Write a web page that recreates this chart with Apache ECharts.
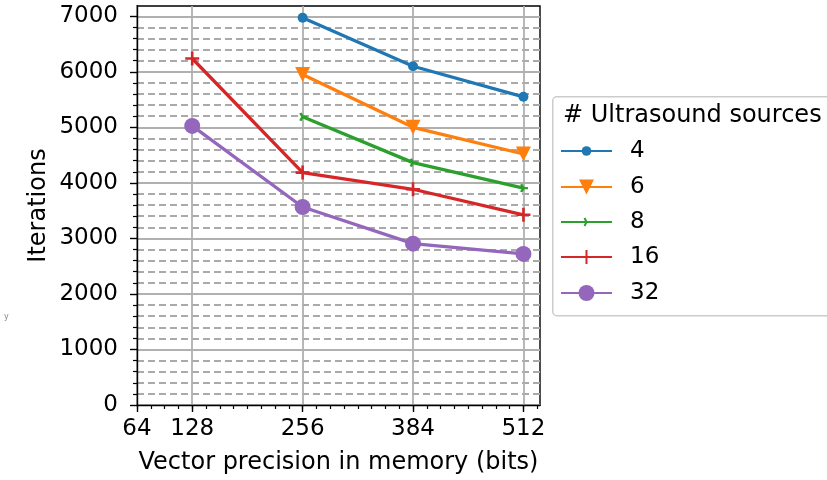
<!DOCTYPE html>
<html>
<head>
<meta charset="utf-8">
<script src="https://cdn.jsdelivr.net/npm/echarts@6/dist/echarts.min.js"></script>
<style>
  html, body { margin: 0; padding: 0; background: #fff; }
  #chart { width: 827px; height: 480px; }
</style>
</head>
<body>
<div id="chart"></div>
<script>
  // values
  var precisions = [128, 256, 384, 512];
  var sources4 = [null, 6975, 6100, 5550];
  var sources6 = [null, 5950, 5000, 4520];
  var sources8 = [null, 5190, 4365, 3905];
  var sources16 = [6240, 4185, 3885, 3425];
  var sources32 = [5025, 3565, 2905, 2720];
  var seriesNames = ['4', '6', '8', '16', '32'];

  var xTicks = [64, 128, 256, 384, 512];
  var yTicks = [0, 1000, 2000, 3000, 4000, 5000, 6000, 7000];

  var xMinor = [];
  for (var v = 64; v <= 528; v += 16) xMinor.push(v);
  var yMinor = [];
  for (var w = 200; w < 7000; w += 200) if (w % 1000) yMinor.push(w);

  var FONT = 'DejaVu Sans';
  var colors = ['#1f77b4', '#ff7f0e', '#2ca02c', '#d62728', '#9467bd'];
  var X_MIN = 64, X_MAX = 531.2, Y_MIN = 0, Y_MAX = 7185;

  var triRight = 'path://M10,10 L20,10 M10,10 L5,1.34 M10,10 L5,18.66 M0,10 L0,10';
  var plus = 'path://M0,10 L20,10 M10,0 L10,20';

  function pairs(vals) {
    var out = [];
    precisions.forEach(function (p, i) {
      if (vals[i] != null) out.push([p, vals[i]]);
    });
    return out;
  }

  function lineSeries(name, vals, i, sym) {
    var s = {
      name: name,
      type: 'line',
      data: pairs(vals),
      xAxisIndex: 0,
      yAxisIndex: 0,
      symbol: sym.symbol,
      symbolSize: sym.size,
      symbolRotate: sym.rotate || 0,
      lineStyle: { color: colors[i], width: 3.3 },
      itemStyle: { color: colors[i], opacity: 1 },
      emphasis: { disabled: true },
      z: 3 + i
    };
    if (sym.stroke) {
      s.itemStyle.borderColor = colors[i];
      s.itemStyle.borderWidth = sym.stroke;
    }
    return s;
  }

  var symbols = [
    { symbol: 'circle', size: 10, legend: 12 },
    { symbol: 'triangle', size: 15, rotate: 180, legend: 18.75 },
    { symbol: triRight, size: [9, 7.8], stroke: 2.4, legend: 10 },
    { symbol: plus, size: 14, stroke: 2.6, legend: 17.5 },
    { symbol: 'circle', size: 16, legend: 20 }
  ];
  var allValues = [sources4, sources6, sources8, sources16, sources32];
  var legendCenters = [151, 187, 222, 257, 293];

  var chart = echarts.init(document.getElementById('chart'));
  var option = {
    animation: false,
    backgroundColor: '#fff',
    textStyle: { fontFamily: FONT },
    grid: {
      left: 137, right: 287, top: 6, bottom: 74,
      show: true, borderColor: '#000', borderWidth: 1.4, backgroundColor: 'transparent'
    },
    xAxis: [{
      type: 'value',
      min: X_MIN, max: X_MAX,
      name: 'Vector precision in memory (bits)',
      nameLocation: 'middle',
      nameGap: 46,
      nameTextStyle: { fontSize: 24, color: '#000', fontFamily: FONT },
      axisLine: { show: true, lineStyle: { color: '#000', width: 1.4 } },
      axisTick: { show: true, customValues: xTicks, length: 7, lineStyle: { color: '#000', width: 1.4 } },
      axisLabel: {
        customValues: xTicks, margin: 13, fontSize: 23, color: '#000', fontFamily: FONT,
        formatter: function (val) { return String(val); }
      },
      splitLine: { show: true, lineStyle: { color: '#b0b0b0', width: 1.8 } }
    }, {
      type: 'value',
      min: X_MIN, max: X_MAX,
      position: 'bottom',
      axisLine: { show: false },
      axisTick: { show: true, customValues: xMinor, length: 4, lineStyle: { color: '#000', width: 1.2 } },
      axisLabel: { show: false },
      splitLine: { show: false }
    }],
    yAxis: [{
      type: 'value',
      min: Y_MIN, max: Y_MAX,
      name: 'Iterations',
      nameLocation: 'middle',
      nameGap: 86,
      nameTextStyle: { fontSize: 24, color: '#000', fontFamily: FONT },
      axisLine: { show: true, lineStyle: { color: '#000', width: 1.4 } },
      axisTick: { show: true, customValues: yTicks, length: 7, lineStyle: { color: '#000', width: 1.4 } },
      axisLabel: {
        customValues: yTicks, margin: 19, fontSize: 23, color: '#000', fontFamily: FONT,
        formatter: function (val) { return String(val); }
      },
      splitLine: { show: true, lineStyle: { color: '#b0b0b0', width: 1.8 } }
    }, {
      type: 'value',
      min: Y_MIN, max: Y_MAX,
      position: 'left',
      axisLine: { show: false },
      axisTick: { show: true, customValues: yMinor, length: 4, lineStyle: { color: '#000', width: 1.2 } },
      axisLabel: { show: false },
      splitLine: { show: true, lineStyle: { color: '#aaaaaa', width: 1.8, type: [7, 4] } }
    }],
    legend: seriesNames.map(function (name, i) {
      return {
        data: [name],
        orient: 'vertical',
        left: 560,
        top: legendCenters[i] - 12,
        padding: 0,
        itemWidth: 51,
        itemHeight: symbols[i].legend,
        selectedMode: false,
        textStyle: { fontSize: 23, lineHeight: 24, color: '#000', fontFamily: FONT, padding: [0, 0, 0, 13] }
      };
    }),
    graphic: [{
      type: 'rect',
      left: 552, top: 96,
      shape: { width: 300, height: 219, r: 4 },
      style: { fill: '#fff', stroke: '#cccccc', lineWidth: 1.5 },
      z: -1
    }, {
      type: 'text',
      left: 563, top: 104,
      style: { text: '# Ultrasound sources', font: '24px "DejaVu Sans"', fill: '#000' }
    }, {
      type: 'text',
      left: 4, top: 313,
      style: { text: 'y', font: '8px "DejaVu Sans"', fill: '#888' }
    }],
    series: seriesNames.map(function (name, i) {
      return lineSeries(name, allValues[i], i, symbols[i]);
    })
  };
  chart.setOption(option);
</script>
</body>
</html>
